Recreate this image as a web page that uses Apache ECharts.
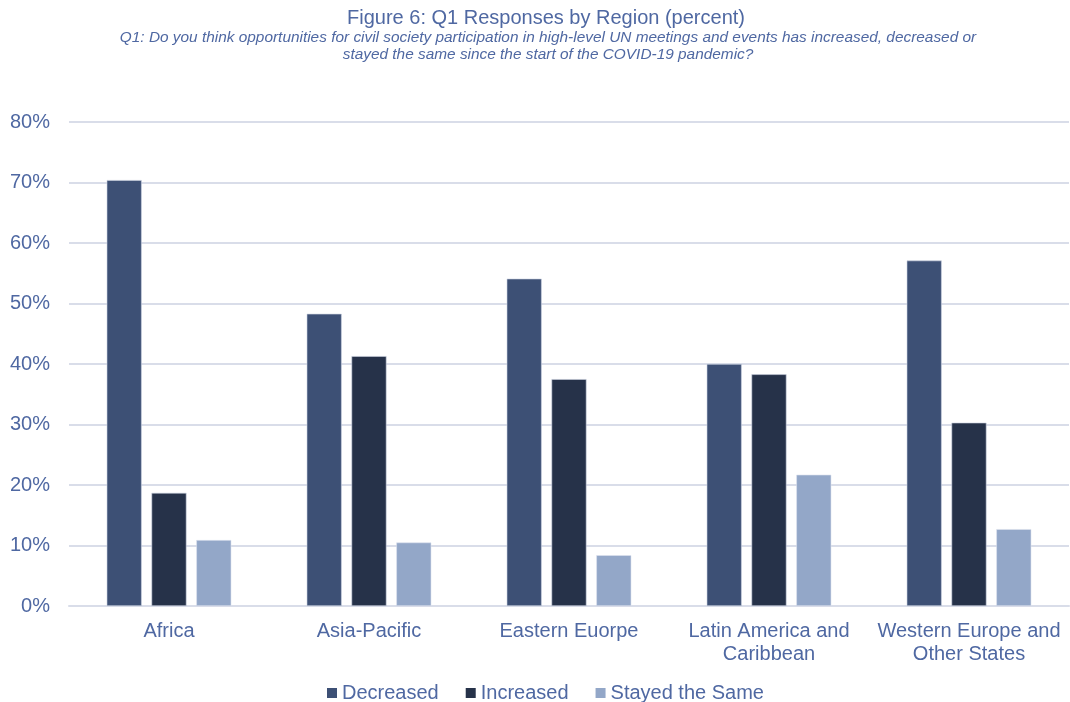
<!DOCTYPE html>
<html>
<head>
<meta charset="utf-8">
<script src="https://cdn.jsdelivr.net/npm/echarts@6/dist/echarts.min.js"></script>
<style>
html,body{margin:0;padding:0;background:#fff;}
#chart{width:1070px;height:702px;}
</style>
</head>
<body>
<div id="chart"></div>
<script>
var categories = ['Africa', 'Asia-Pacific', 'Eastern Euorpe', 'Latin America and\nCaribbean', 'Western Europe and\nOther States'];
var decreased = [70.4, 48.3, 54.1, 40.0, 57.1];
var increased = [18.7, 41.3, 37.5, 38.3, 30.3];
var stayedSame = [10.9, 10.5, 8.4, 21.7, 12.7];
var yTicks = [0, 10, 20, 30, 40, 50, 60, 70, 80];

var textColor = '#4f68a2';
var fontFam = '"Liberation Sans", Arial, Helvetica, sans-serif';

var chart = echarts.init(document.getElementById('chart'), null, {renderer: 'canvas'});
chart.setOption({
  backgroundColor: '#ffffff',
  animation: false,
  title: [
    {
      text: 'Figure 6: Q1 Responses by Region (percent)',
      left: 541, top: 3, textAlign: 'center',
      textStyle: {fontFamily: fontFam, fontSize: 20, fontWeight: 'normal', color: textColor}
    },
    {
      text: 'Q1: Do you think opportunities for civil society participation in high-level UN meetings and events has increased, decreased or\nstayed the same since the start of the COVID-19 pandemic?',
      left: 543, top: 24, textAlign: 'center',
      textStyle: {fontFamily: fontFam, fontSize: 15.4, fontStyle: 'italic', fontWeight: 'normal', color: textColor, lineHeight: 17, align: 'center'}
    }
  ],
  legend: {
    top: 678, left: 322,
    itemWidth: 10, itemHeight: 10, itemGap: 27,
    icon: 'rect',
    itemStyle: {borderWidth: 0},
    textStyle: {fontFamily: fontFam, fontSize: 20, color: textColor, padding: [0, 0, 0, 0]},
    data: ['Decreased', 'Increased', 'Stayed the Same']
  },
  grid: {left: 69, right: 1, top: 122, bottom: 96},
  xAxis: {
    type: 'category',
    data: categories,
    axisLine: {show: true, lineStyle: {color: '#d9dde9', width: 2}},
    axisTick: {show: false},
    axisLabel: {fontFamily: fontFam, fontSize: 20, color: textColor, margin: 14, lineHeight: 23, interval: 0}
  },
  yAxis: {
    type: 'value',
    min: yTicks[0], max: yTicks[yTicks.length - 1], interval: 10,
    axisLine: {show: false},
    axisTick: {show: false},
    splitLine: {lineStyle: {color: '#d9dde9', width: 2}},
    axisLabel: {fontFamily: fontFam, fontSize: 20, color: textColor, margin: 19, formatter: '{value}%'}
  },
  series: [
    {name: 'Decreased', type: 'bar', data: decreased, barWidth: 35, barGap: '28%',
     itemStyle: {color: '#3d5075', borderColor: '#cdd4e3', borderWidth: 0.6}},
    {name: 'Increased', type: 'bar', data: increased, barWidth: 35,
     itemStyle: {color: '#263249', borderColor: '#cdd4e3', borderWidth: 0.6}},
    {name: 'Stayed the Same', type: 'bar', data: stayedSame, barWidth: 35,
     itemStyle: {color: '#93a7c8', borderColor: '#dde3ee', borderWidth: 0.6}}
  ]
});
</script>
</body>
</html>
